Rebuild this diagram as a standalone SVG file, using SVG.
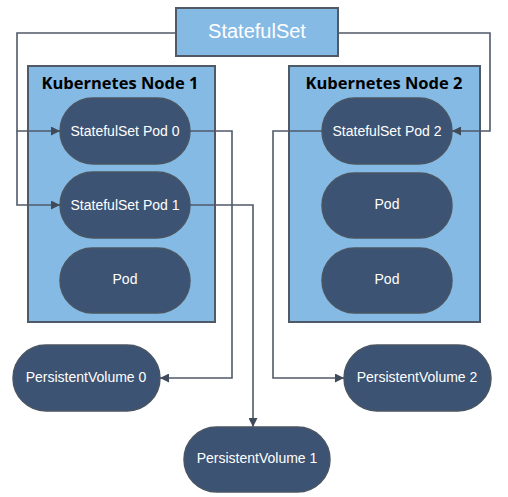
<svg xmlns="http://www.w3.org/2000/svg" width="508" height="497" viewBox="0 0 508 497">
<style>
.node{fill:#85BAE4;stroke:#505a66;stroke-width:2}
.pod{fill:#3C5373;stroke:#4a5563;stroke-width:1.5}
.pt{fill:#fff;font-family:"Liberation Sans",Arial,sans-serif;font-size:14px;text-anchor:middle;dominant-baseline:central}
.title{fill:#000;font-family:"Open Sans","Noto Sans",sans-serif;font-weight:bold;font-size:16.5px;text-anchor:middle;dominant-baseline:central}
.conn{fill:none;stroke:#505a68;stroke-width:1.6}
</style>
<defs>
<marker id="arr" viewBox="0 0 10 10" refX="10" refY="5" markerWidth="10" markerHeight="9" markerUnits="userSpaceOnUse" orient="auto">
<path d="M0,0 L10,5 L0,10 z" fill="#3f4a5a"/>
</marker>
</defs>
<rect width="508" height="497" fill="#fff"/>
<g id="node1">
<rect class="node" x="28" y="66" width="187" height="256"/>
<text class="title" x="120" y="82">Kubernetes Node 1</text>
</g>
<g id="node2">
<rect class="node" x="289" y="66" width="191" height="256"/>
<text class="title" x="384" y="82">Kubernetes Node 2</text>
</g>
<g id="statefulset">
<rect x="176" y="8" width="162" height="48" fill="#85BAE4" stroke="#505a66" stroke-width="2"/>
<text x="257" y="31" fill="#fff" font-family="Liberation Sans,Arial,sans-serif" font-size="20" text-anchor="middle" dominant-baseline="central">StatefulSet</text>
</g>
<g id="connectors">
<path class="conn" d="M176,33 H17 V131 H60" marker-end="url(#arr)"/>
<path class="conn" d="M17,131 V205 H60" marker-end="url(#arr)"/>
<path class="conn" d="M338,33 H490 V131 H452" marker-end="url(#arr)"/>
<path class="conn" d="M190,131 H232 V378 H160" marker-end="url(#arr)"/>
<path class="conn" d="M190,205 H253 V427" marker-end="url(#arr)"/>
<path class="conn" d="M322,131 H273 V378 H344" marker-end="url(#arr)"/>
</g>
<g id="pod0"><rect class="pod" x="60" y="98" width="130" height="66" rx="33"/><text class="pt" x="125" y="131">StatefulSet Pod 0</text></g>
<g id="pod1"><rect class="pod" x="60" y="172" width="130" height="66" rx="33"/><text class="pt" x="125" y="205">StatefulSet Pod 1</text></g>
<g id="pod1b"><rect class="pod" x="60" y="248" width="130" height="65" rx="32.5"/><text class="pt" x="125" y="279">Pod</text></g>
<g id="pod2"><rect class="pod" x="322" y="98" width="130" height="66" rx="33"/><text class="pt" x="387" y="131">StatefulSet Pod 2</text></g>
<g id="pod2b"><rect class="pod" x="322" y="173" width="130" height="65" rx="32.5"/><text class="pt" x="387" y="204">Pod</text></g>
<g id="pod2c"><rect class="pod" x="322" y="248" width="130" height="65" rx="32.5"/><text class="pt" x="387" y="279">Pod</text></g>
<g id="pv0"><rect class="pod" x="13" y="345" width="147" height="66" rx="33"/><text class="pt" x="86" y="377">PersistentVolume 0</text></g>
<g id="pv1"><rect class="pod" x="184" y="427" width="146" height="65" rx="32.5"/><text class="pt" x="257" y="458">PersistentVolume 1</text></g>
<g id="pv2"><rect class="pod" x="344" y="345" width="147" height="66" rx="33"/><text class="pt" x="417" y="377">PersistentVolume 2</text></g>
</svg>
